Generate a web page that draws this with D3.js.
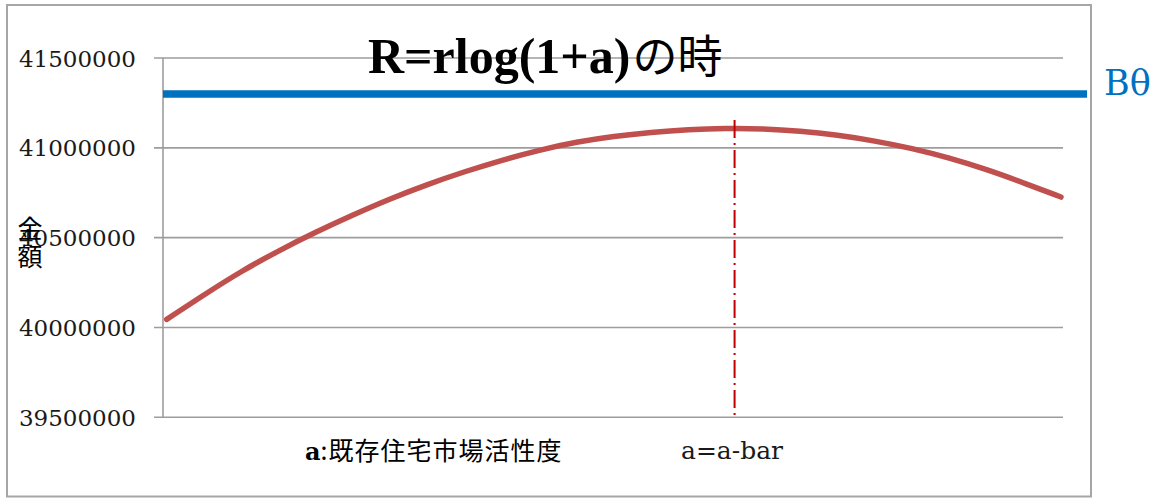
<!DOCTYPE html>
<html>
<head>
<meta charset="utf-8">
<script src="https://cdn.jsdelivr.net/npm/d3@7"></script>
<style>
  html, body { margin: 0; padding: 0; background: #fff; }
  svg { display: block; }
</style>
</head>
<body>
<svg id="chart" width="1160" height="498"></svg>
<script>
// ---- data ----
const aValues = [0, 0.05, 0.10, 0.15, 0.20, 0.25, 0.30, 0.35, 0.40, 0.45, 0.50, 0.55, 0.60,
                 0.65, 0.70, 0.75, 0.80, 0.85, 0.90, 0.95, 1.00, 1.05, 1.10, 1.15, 1.20];
const amounts = [40045000, 40182000, 40313000, 40427000, 40531000, 40627000, 40717000, 40797000,
                 40868000, 40932000, 40988000, 41033000, 41065000, 41087000, 41102000, 41109000,
                 41107000, 41094000, 41071000, 41039000, 40997000, 40944000, 40880000, 40805000, 40726000];
const bTheta = 41300000;
const bThetaSpan = [-0.005, 1.235];
const aBar = 0.762;
const aBarTop = 41155000;
const yTicks = [39500000, 40000000, 40500000, 41000000, 41500000];
const yDomain = [39500000, 41500000];
const titleLatin = "R=rlog(1+a)";
const titleCJK = "の時";
const yTitle = ["金", "額"];
const xTitleA = "a";
const xTitleRest = ":既存住宅市場活性度";
const aBarLabel = "a=a-bar";
const bThetaLabel = "Bθ";

// ---- layout ----
const svg = d3.select("#chart");
const plotLeft = 163, plotRight = 1063, plotTop = 58, plotBottom = 417.3;
const x = d3.scaleLinear().domain([0, 1.2]).range([166.7, 1061]);
const y = d3.scaleLinear().domain(yDomain).range([plotBottom, plotTop]);
const gridColor = "#9d9d9d";

// outer frame
svg.append("rect")
  .attr("x", 7).attr("y", 5).attr("width", 1084).attr("height", 491.5)
  .attr("fill", "none").attr("stroke", "#a6a6a6").attr("stroke-width", 2);

// gridlines
svg.append("g").selectAll("line").data(yTicks).join("line")
  .attr("x1", plotLeft - 9).attr("x2", plotRight)
  .attr("y1", d => y(d)).attr("y2", d => y(d))
  .attr("stroke", gridColor).attr("stroke-width", 1.6);

// y axis line
svg.append("line")
  .attr("x1", plotLeft).attr("x2", plotLeft)
  .attr("y1", plotTop).attr("y2", plotBottom)
  .attr("stroke", gridColor).attr("stroke-width", 1.6);

// y tick labels
svg.append("g").selectAll("text").data(yTicks).join("text")
  .attr("x", 136).attr("y", d => y(d) + 8.5)
  .attr("text-anchor", "end")
  .attr("font-family", "'DejaVu Serif', serif")
  .attr("font-size", 23)
  .attr("fill", "#1a1a1a")
  .text(d => d3.format("d")(d));

// Btheta line
svg.append("line")
  .attr("x1", x(bThetaSpan[0])).attr("x2", x(bThetaSpan[1]))
  .attr("y1", y(bTheta)).attr("y2", y(bTheta))
  .attr("stroke", "#0070C0").attr("stroke-width", 7.5);

svg.append("text")
  .attr("x", 1104).attr("y", 95)
  .attr("font-family", "'DejaVu Serif', serif")
  .attr("font-size", 35)
  .attr("fill", "#0070C0")
  .text(bThetaLabel);

// curve
const pts = aValues.map((a, i) => [a, amounts[i]]);
svg.append("path")
  .datum(pts)
  .attr("fill", "none")
  .attr("stroke", "#C0504D")
  .attr("stroke-width", 5.5)
  .attr("stroke-linecap", "round")
  .attr("stroke-linejoin", "round")
  .attr("d", d3.line().x(d => x(d[0])).y(d => y(d[1])).curve(d3.curveBasis));

// a-bar dash-dot line
svg.append("line")
  .attr("x1", x(aBar)).attr("x2", x(aBar))
  .attr("y1", y(aBarTop)).attr("y2", y(yDomain[0]))
  .attr("stroke", "#C00000").attr("stroke-width", 2)
  .attr("stroke-dasharray", "18,5,2,5");

// title
const t = svg.append("text")
  .attr("x", 368).attr("y", 73)
  .attr("fill", "#000");
t.append("tspan")
  .attr("font-family", "'Liberation Serif', serif")
  .attr("font-weight", "bold")
  .attr("font-size", 50)
  .text(titleLatin);
t.append("tspan")
  .attr("font-family", "'Noto Sans CJK JP', sans-serif")
  .attr("font-size", 45)
  .attr("dx", 2)
  .text(titleCJK);

// y title (vertical stacked)
svg.append("g").selectAll("text").data(yTitle).join("text")
  .attr("x", 30).attr("y", (d, i) => 238 + i * 28)
  .attr("text-anchor", "middle")
  .attr("font-family", "'Noto Sans CJK JP', sans-serif")
  .attr("font-size", 25)
  .attr("fill", "#000")
  .text(d => d);

// x title
const xt = svg.append("text")
  .attr("x", 305).attr("y", 460)
  .attr("fill", "#000");
xt.append("tspan")
  .attr("font-family", "'DejaVu Serif', serif")
  .attr("font-weight", "bold")
  .attr("font-size", 24)
  .text(xTitleA);
xt.append("tspan")
  .attr("font-family", "'Noto Sans CJK JP', sans-serif")
  .attr("font-size", 25)
  .attr("letter-spacing", 1)
  .text(xTitleRest);

// a=a-bar label
svg.append("text")
  .attr("x", 681).attr("y", 459)
  .attr("font-family", "'DejaVu Serif', serif")
  .attr("font-size", 25)
  .attr("fill", "#1a1a1a")
  .text(aBarLabel);
</script>
</body>
</html>
